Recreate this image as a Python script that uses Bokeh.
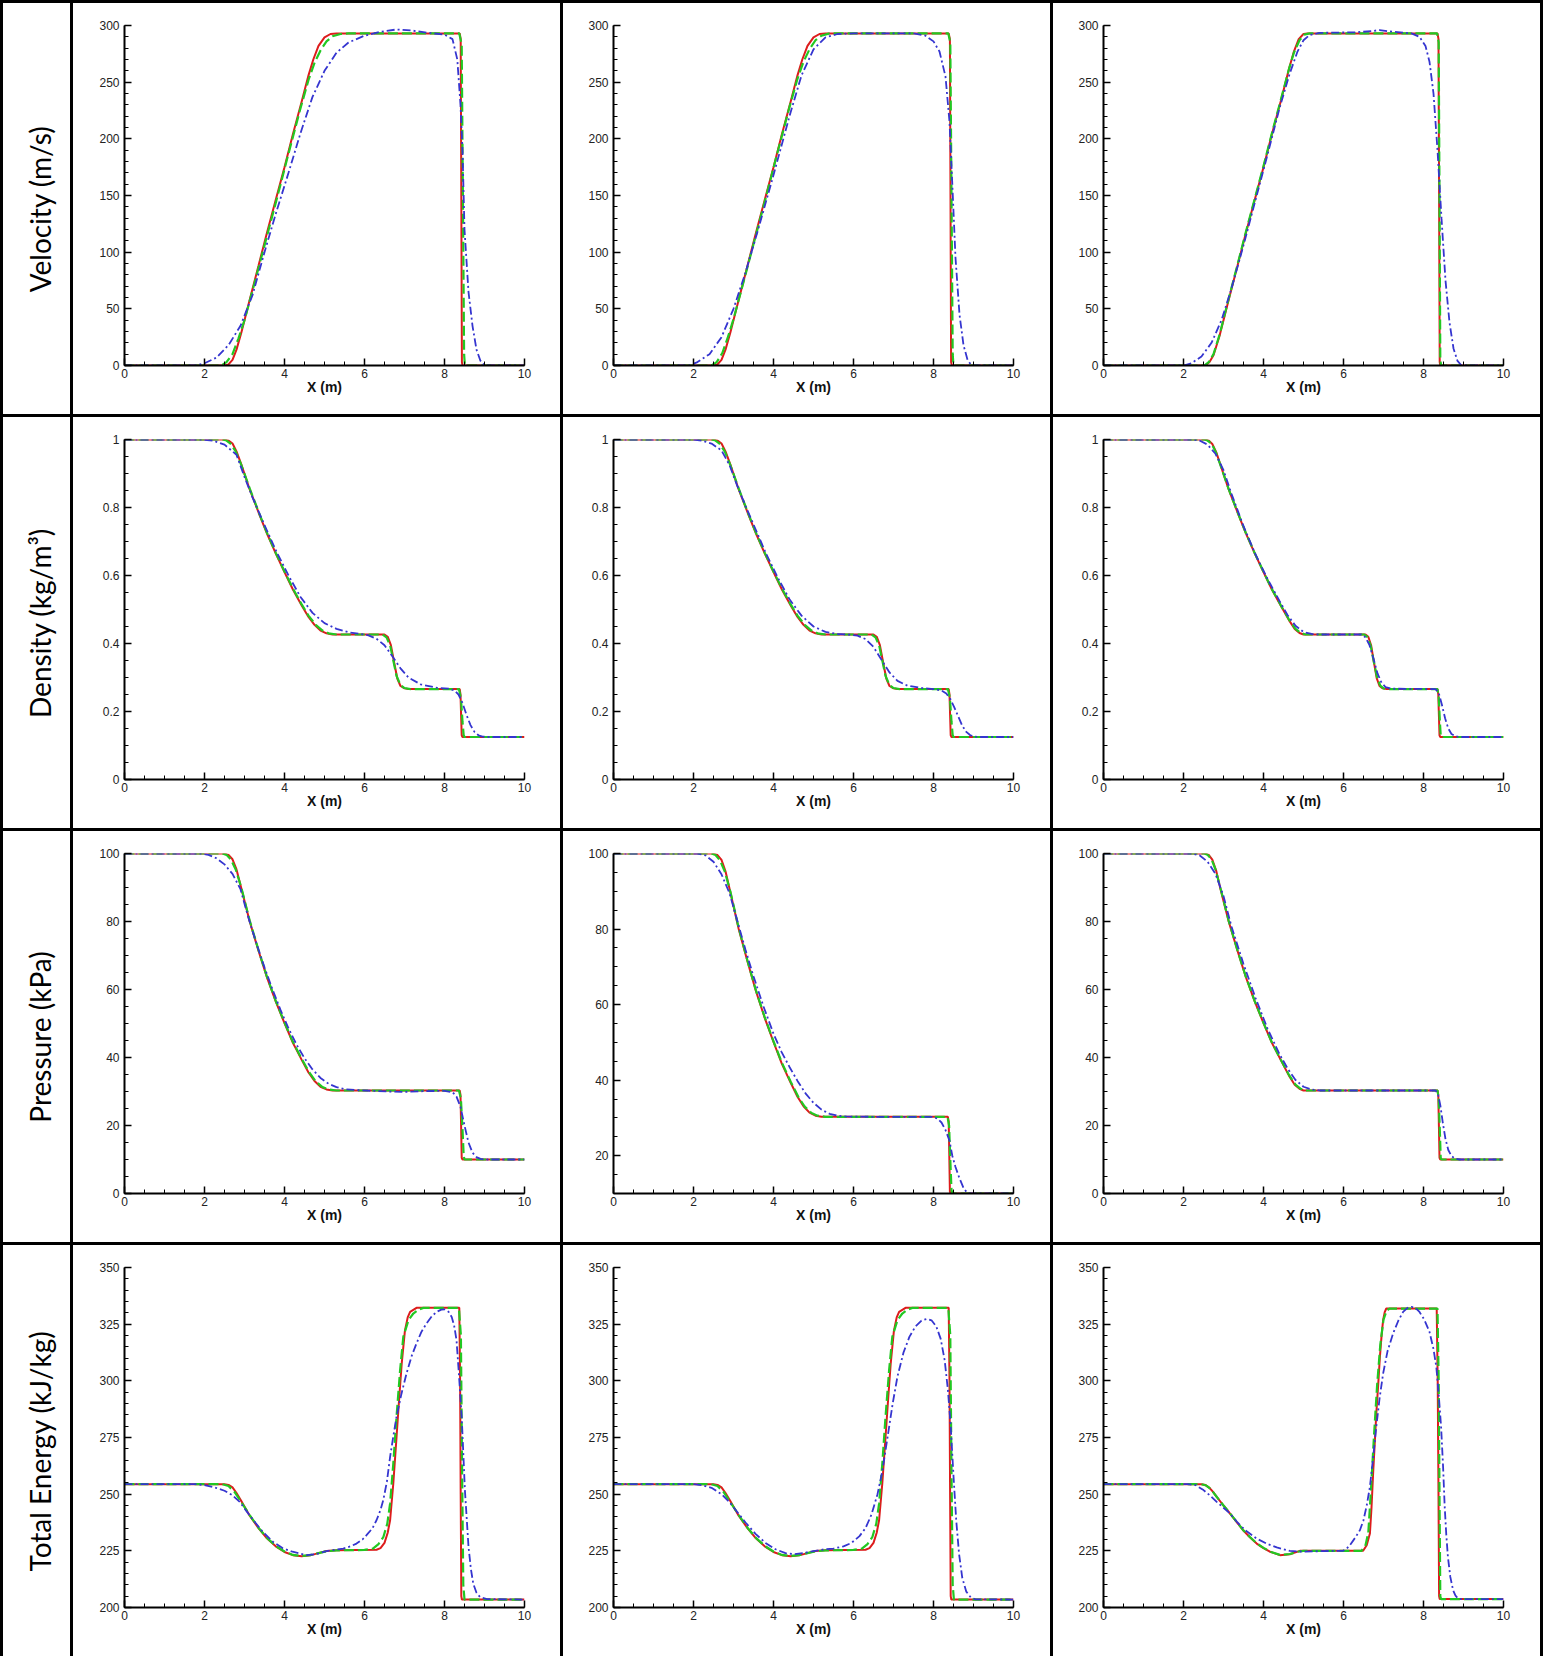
from math import pi
from bokeh.plotting import figure
from bokeh.models import (ColumnDataSource, Range1d, SingleIntervalTicker,
                          NumeralTickFormatter, GridBox)
from bokeh.embed import file_html
from bokeh.resources import INLINE
from bokeh.core.properties import value

# ---------------- text ----------------
ROW_LABELS = ["Velocity (m/s)", "Density (kg/m\u00b3)", "Pressure (kPa)", "Total Energy (kJ/kg)"]
X_LABEL = "X (m)"

# ---------------- data (x in m, value) ----------------
# Velocity (m/s)
VEL_C1_RED = [(0,0),(2.5,0),(2.6,1),(2.7,5),(2.8,14),(2.92,29),(3.13,58),(3.35,88),(3.56,117),(3.78,146),(4.0,175),(4.21,204),(4.43,233),(4.6,256),(4.72,270),(4.85,282),(5.0,289.5),(5.15,292.5),(5.3,293),(8.38,293),(8.405,288),(8.42,150),(8.435,3),(8.45,0),(10,0)]
VEL_C1_GRN = [(0,0),(2.42,0),(2.55,3),(2.7,10),(2.85,24),(3.0,40),(3.2,66),(3.5,106),(3.8,146),(4.1,187),(4.4,227),(4.6,252),(4.75,267),(4.9,278),(5.05,286),(5.2,290.5),(5.4,292.5),(5.6,293),(8.37,293),(8.43,283),(8.46,150),(8.49,10),(8.51,0),(10,0)]
VEL_C1_BLU = [(0,0),(1.8,0),(2.0,2),(2.3,7),(2.6,18),(2.9,35),(3.2,62),(3.5,100),(3.8,136),(4.1,170),(4.4,205),(4.7,237),(5.0,260),(5.3,276),(5.6,285),(6.0,291),(6.4,294.5),(6.8,296.5),(7.2,295.5),(7.6,293.5),(8.0,292),(8.2,288),(8.32,270),(8.4,230),(8.45,190),(8.5,120),(8.6,65),(8.7,35),(8.8,14),(8.9,4),(9.0,0),(10,0)]

VEL_C2_RED = [(0,0),(2.5,0),(2.6,1),(2.7,5),(2.8,14),(2.92,29),(3.13,58),(3.35,88),(3.56,117),(3.78,146),(4.0,175),(4.21,204),(4.43,233),(4.6,256),(4.72,270),(4.85,282),(5.0,289.5),(5.15,292.5),(5.3,293),(8.38,293),(8.41,288),(8.425,150),(8.44,3),(8.46,0),(10,0)]
VEL_C2_GRN = [(0,0),(2.45,0),(2.58,3),(2.72,11),(2.86,25),(3.0,41),(3.2,67),(3.5,107),(3.8,147),(4.1,188),(4.4,228),(4.6,253),(4.75,268),(4.9,279),(5.05,287),(5.2,291),(5.4,293),(8.37,293),(8.42,285),(8.45,150),(8.48,10),(8.5,0),(10,0)]
VEL_C2_BLU = [(0,0),(1.9,0),(2.1,3),(2.4,10),(2.7,25),(3.0,50),(3.3,82),(3.6,118),(4.0,168),(4.4,220),(4.7,256),(5.0,279),(5.3,289.5),(5.6,292.5),(6.0,293),(7.5,293),(7.8,291),(8.0,286),(8.15,277),(8.3,255),(8.4,215),(8.47,160),(8.55,95),(8.65,45),(8.75,18),(8.85,5),(8.95,0),(10,0)]

VEL_C3_RED = [(0,0),(2.55,0),(2.65,3),(2.75,9),(2.9,26),(3.13,58),(3.35,88),(3.56,117),(3.78,146),(4.0,175),(4.21,204),(4.43,233),(4.64,262),(4.76,277),(4.88,288),(5.0,292.5),(5.1,293),(8.35,293),(8.375,288),(8.39,150),(8.405,3),(8.42,0),(10,0)]
VEL_C3_GRN = [(0,0),(2.52,0),(2.63,3),(2.75,10),(2.9,27),(3.13,59),(3.35,89),(3.56,118),(3.78,147),(4.0,176),(4.21,205),(4.43,234),(4.64,262),(4.76,276),(4.9,287),(5.02,292),(5.15,293),(8.34,293),(8.38,285),(8.4,150),(8.42,5),(8.44,0),(10,0)]
VEL_C3_BLU = [(0,0),(2.0,0),(2.2,2),(2.45,8),(2.7,20),(2.95,40),(3.2,68),(3.5,106),(3.8,146),(4.1,186),(4.4,227),(4.65,257),(4.85,277),(5.0,287),(5.15,291.5),(5.4,293.5),(6.3,294),(6.7,295),(6.9,296),(7.1,295),(7.7,293),(7.9,290),(8.05,282),(8.15,268),(8.25,240),(8.35,190),(8.45,130),(8.55,75),(8.65,38),(8.75,15),(8.85,4),(8.95,0),(10,0)]

# Density (kg/m3)
DEN_C1_RED = [(0,1),(2.5,1),(2.6,0.997),(2.7,0.988),(2.8,0.965),(2.92,0.927),(3.13,0.853),(3.35,0.786),(3.56,0.724),(3.78,0.665),(4.0,0.61),(4.21,0.559),(4.43,0.512),(4.6,0.478),(4.75,0.455),(4.9,0.438),(5.05,0.43),(5.2,0.4265),(6.5,0.4265),(6.58,0.42),(6.66,0.395),(6.74,0.345),(6.82,0.297),(6.9,0.275),(7.0,0.268),(7.1,0.266),(8.38,0.266),(8.4,0.25),(8.415,0.19),(8.43,0.13),(8.45,0.125),(10,0.125)]
DEN_C1_GRN = [(0,1),(2.45,1),(2.55,0.997),(2.65,0.988),(2.78,0.965),(2.92,0.925),(3.13,0.856),(3.35,0.788),(3.56,0.726),(3.78,0.667),(4.0,0.612),(4.21,0.562),(4.43,0.515),(4.6,0.482),(4.78,0.455),(4.95,0.438),(5.1,0.43),(5.3,0.4265),(6.45,0.4265),(6.55,0.418),(6.64,0.395),(6.72,0.35),(6.8,0.305),(6.9,0.278),(7.0,0.269),(7.15,0.266),(8.36,0.266),(8.41,0.24),(8.45,0.17),(8.48,0.13),(8.5,0.125),(10,0.125)]
DEN_C1_BLU = [(0,1),(1.9,1),(2.2,0.997),(2.5,0.985),(2.8,0.955),(3.0,0.89),(3.2,0.83),(3.5,0.748),(3.8,0.67),(4.1,0.6),(4.4,0.537),(4.7,0.49),(5.0,0.46),(5.3,0.443),(5.6,0.433),(5.9,0.428),(6.1,0.424),(6.3,0.414),(6.5,0.395),(6.7,0.362),(6.9,0.327),(7.1,0.3),(7.4,0.28),(7.8,0.27),(8.1,0.267),(8.25,0.262),(8.35,0.25),(8.45,0.225),(8.55,0.19),(8.65,0.16),(8.75,0.14),(8.85,0.13),(8.95,0.126),(9.1,0.125),(10,0.125)]

DEN_C2_RED = [(0,1),(2.5,1),(2.6,0.997),(2.7,0.988),(2.8,0.965),(2.92,0.927),(3.13,0.853),(3.35,0.786),(3.56,0.724),(3.78,0.665),(4.0,0.61),(4.21,0.559),(4.43,0.512),(4.6,0.478),(4.75,0.455),(4.9,0.438),(5.05,0.43),(5.2,0.4265),(6.5,0.4265),(6.58,0.42),(6.66,0.395),(6.74,0.345),(6.82,0.297),(6.9,0.275),(7.0,0.268),(7.1,0.266),(8.38,0.266),(8.4,0.25),(8.415,0.19),(8.43,0.13),(8.45,0.125),(10,0.125)]
DEN_C2_GRN = [(0,1),(2.45,1),(2.55,0.997),(2.65,0.988),(2.78,0.965),(2.92,0.925),(3.13,0.856),(3.35,0.788),(3.56,0.726),(3.78,0.667),(4.0,0.612),(4.21,0.562),(4.43,0.515),(4.6,0.482),(4.78,0.455),(4.95,0.438),(5.1,0.43),(5.3,0.4265),(6.45,0.4265),(6.55,0.418),(6.64,0.395),(6.72,0.35),(6.8,0.305),(6.9,0.278),(7.0,0.269),(7.15,0.266),(8.36,0.266),(8.41,0.24),(8.45,0.17),(8.48,0.13),(8.5,0.125),(10,0.125)]
DEN_C2_BLU = [(0,1),(2.0,1),(2.2,0.997),(2.45,0.988),(2.7,0.968),(2.9,0.925),(3.1,0.862),(3.3,0.805),(3.5,0.75),(3.8,0.668),(4.1,0.595),(4.4,0.53),(4.7,0.482),(5.0,0.45),(5.3,0.434),(5.6,0.428),(5.9,0.426),(6.1,0.423),(6.3,0.413),(6.5,0.39),(6.7,0.352),(6.9,0.315),(7.1,0.29),(7.35,0.276),(7.7,0.269),(8.0,0.266),(8.2,0.262),(8.32,0.253),(8.42,0.237),(8.52,0.212),(8.62,0.185),(8.72,0.158),(8.82,0.14),(8.92,0.13),(9.02,0.126),(9.15,0.125),(10,0.125)]

DEN_C3_RED = [(0,1),(2.55,1),(2.63,0.997),(2.72,0.987),(2.82,0.962),(2.92,0.927),(3.13,0.853),(3.35,0.786),(3.56,0.724),(3.78,0.665),(4.0,0.61),(4.21,0.559),(4.43,0.512),(4.64,0.468),(4.78,0.443),(4.9,0.431),(5.0,0.4265),(6.55,0.4265),(6.62,0.42),(6.69,0.395),(6.76,0.345),(6.83,0.298),(6.9,0.275),(6.98,0.268),(7.08,0.266),(8.35,0.266),(8.37,0.25),(8.385,0.19),(8.4,0.13),(8.42,0.125),(10,0.125)]
DEN_C3_GRN = [(0,1),(2.52,1),(2.6,0.997),(2.7,0.988),(2.8,0.965),(2.92,0.926),(3.13,0.854),(3.35,0.787),(3.56,0.725),(3.78,0.666),(4.0,0.611),(4.21,0.56),(4.43,0.513),(4.64,0.47),(4.8,0.443),(4.93,0.431),(5.05,0.4265),(6.52,0.4265),(6.6,0.419),(6.68,0.393),(6.76,0.345),(6.84,0.3),(6.92,0.276),(7.0,0.268),(7.1,0.266),(8.35,0.266),(8.38,0.245),(8.41,0.17),(8.43,0.13),(8.45,0.125),(10,0.125)]
DEN_C3_BLU = [(0,1),(2.2,1),(2.4,0.997),(2.6,0.985),(2.8,0.958),(3.0,0.91),(3.2,0.84),(3.5,0.745),(3.8,0.662),(4.1,0.59),(4.4,0.525),(4.6,0.484),(4.8,0.452),(5.0,0.434),(5.2,0.428),(5.4,0.4265),(6.45,0.4265),(6.55,0.418),(6.65,0.395),(6.75,0.355),(6.85,0.312),(6.95,0.285),(7.05,0.272),(7.2,0.267),(8.3,0.266),(8.38,0.255),(8.46,0.22),(8.54,0.18),(8.62,0.15),(8.7,0.134),(8.8,0.127),(8.9,0.125),(10,0.125)]

# Pressure (kPa)
PRE_C1_RED = [(0,100),(2.5,100),(2.6,99.6),(2.7,98.3),(2.8,95.3),(2.92,89.8),(3.13,80),(3.35,71.4),(3.56,63.6),(3.78,56.5),(4.0,50.1),(4.21,44.3),(4.43,39.3),(4.6,35.6),(4.75,33.1),(4.9,31.4),(5.05,30.6),(5.2,30.3),(8.38,30.3),(8.4,29),(8.415,20),(8.43,10.5),(8.45,10),(10,10)]
PRE_C1_GRN = [(0,100),(2.45,100),(2.55,99.6),(2.66,98.2),(2.78,95.3),(2.92,90),(3.13,80.3),(3.35,71.6),(3.56,63.8),(3.78,56.7),(4.0,50.3),(4.21,44.6),(4.43,39.6),(4.62,35.6),(4.78,33),(4.95,31.3),(5.1,30.6),(5.3,30.3),(8.36,30.3),(8.41,28),(8.45,19),(8.48,11),(8.5,10),(10,10)]
PRE_C1_BLU = [(0,100),(1.9,100),(2.1,99.6),(2.3,98.6),(2.5,96.8),(2.7,94),(2.9,89.5),(3.1,81),(3.3,73.5),(3.5,66.5),(3.7,60),(3.9,54),(4.1,48.6),(4.3,43.8),(4.5,39.8),(4.7,36.5),(4.9,34),(5.1,32.3),(5.3,31.3),(5.5,30.7),(5.8,30.4),(6.2,30.2),(6.6,30.0),(7.0,29.9),(7.5,30.1),(8.0,30.2),(8.2,29.8),(8.3,28.5),(8.4,25.5),(8.5,20),(8.6,15),(8.7,12),(8.8,10.7),(8.9,10.2),(9.0,10),(10,10)]

PRE_C2_RED = [(0,100),(2.5,100),(2.6,99.6),(2.7,98.3),(2.8,95.3),(2.92,89.8),(3.13,80),(3.35,71.4),(3.56,63.6),(3.78,56.5),(4.0,50.1),(4.21,44.3),(4.43,39.3),(4.6,35.6),(4.75,33.1),(4.9,31.4),(5.05,30.6),(5.2,30.3),(8.36,30.3),(8.38,29),(8.395,20),(8.41,10.5),(8.43,10),(10,10)]
PRE_C2_GRN = [(0,100),(2.45,100),(2.55,99.6),(2.66,98.2),(2.78,95.3),(2.92,90),(3.13,80.3),(3.35,71.6),(3.56,63.8),(3.78,56.7),(4.0,50.3),(4.21,44.6),(4.43,39.6),(4.62,35.6),(4.78,33),(4.95,31.3),(5.1,30.6),(5.3,30.3),(8.35,30.3),(8.39,28),(8.42,19),(8.45,11),(8.47,10),(10,10)]
PRE_C2_BLU = [(0,100),(2.1,100),(2.3,99.5),(2.5,97.8),(2.7,94.5),(2.9,89.5),(3.1,82),(3.3,74.5),(3.5,67.5),(3.75,59.5),(4.0,52.3),(4.2,47.5),(4.4,43.5),(4.6,39.8),(4.8,36.5),(5.0,34),(5.2,32.2),(5.4,31.1),(5.6,30.6),(5.8,30.4),(6.5,30.3),(8.0,30.3),(8.1,29.8),(8.2,28.8),(8.3,26.8),(8.4,24),(8.47,20),(8.55,17),(8.65,14),(8.75,11.5),(8.84,10.2),(8.9,10),(10,10)]

PRE_C3_RED = [(0,100),(2.55,100),(2.63,99.6),(2.72,98.2),(2.82,94.8),(2.92,89.8),(3.13,80),(3.35,71.4),(3.56,63.6),(3.78,56.5),(4.0,50.1),(4.21,44.3),(4.43,39.3),(4.64,34.6),(4.78,32),(4.9,30.8),(5.0,30.3),(8.35,30.3),(8.37,29),(8.385,20),(8.4,10.5),(8.42,10),(10,10)]
PRE_C3_GRN = [(0,100),(2.52,100),(2.6,99.6),(2.7,98.3),(2.8,95.3),(2.92,90),(3.13,80.2),(3.35,71.5),(3.56,63.7),(3.78,56.6),(4.0,50.2),(4.21,44.4),(4.43,39.4),(4.64,34.8),(4.8,32),(4.93,30.8),(5.05,30.3),(8.35,30.3),(8.38,28),(8.41,18),(8.43,10.5),(8.45,10),(10,10)]
PRE_C3_BLU = [(0,100),(2.2,100),(2.4,99.5),(2.6,97.6),(2.8,94),(3.0,87.5),(3.2,78.5),(3.5,67.5),(3.8,57.5),(4.1,48.5),(4.4,41),(4.6,36.8),(4.8,33.4),(5.0,31.4),(5.2,30.6),(5.4,30.3),(8.3,30.3),(8.36,29.3),(8.42,26),(8.48,21),(8.55,16),(8.62,12.8),(8.7,11),(8.8,10.2),(8.9,10),(10,10)]

# Total energy (kJ/kg)
EN_C1_RED = [(0,254.4),(2.5,254.4),(2.6,254.1),(2.7,253),(2.8,250.5),(2.92,247),(3.13,240.5),(3.35,235),(3.56,230.5),(3.78,227),(4.0,224.5),(4.21,223.1),(4.43,222.6),(4.64,223),(4.85,224),(5.05,224.9),(5.3,225.3),(6.3,225.5),(6.4,226.2),(6.5,228.5),(6.58,233),(6.64,238.5),(6.72,254.7),(6.8,275),(6.87,293),(6.93,307.6),(7.01,322),(7.08,328),(7.14,330.4),(7.3,332.2),(8.37,332.2),(8.39,300),(8.405,250),(8.42,205),(8.435,203.5),(10,203.5)]
EN_C1_GRN = [(0,254.4),(2.45,254.4),(2.6,253.6),(2.75,251),(2.9,247),(3.13,240.8),(3.35,235.2),(3.56,230.7),(3.78,227.2),(4.0,224.7),(4.21,223.2),(4.43,222.7),(4.64,223.1),(4.85,224),(5.05,224.8),(5.3,225.2),(6.0,225.4),(6.21,226),(6.35,228),(6.47,231),(6.57,237),(6.64,245.9),(6.72,263.5),(6.8,284),(6.89,304.7),(6.97,319.4),(7.1,326.8),(7.22,329.7),(7.35,331.4),(7.47,332.2),(8.36,332.2),(8.41,320),(8.44,260),(8.47,210),(8.5,203.5),(10,203.5)]
EN_C1_BLU = [(0,254.4),(1.8,254.4),(2.0,254),(2.25,253),(2.5,251.5),(2.7,249.5),(2.88,246.6),(3.05,242.5),(3.21,238.8),(3.45,233.5),(3.71,229),(3.95,226.2),(4.2,224.6),(4.55,223.1),(4.8,223.6),(5.05,224.9),(5.3,225.6),(5.47,226),(5.65,227),(5.8,228.2),(5.95,230),(6.05,231.9),(6.2,235),(6.3,238.5),(6.4,243),(6.47,247.4),(6.56,255.5),(6.64,266.5),(6.72,275.5),(6.8,284.1),(6.92,294),(7.05,303.2),(7.18,311),(7.3,316.5),(7.42,321.5),(7.55,325.3),(7.68,328.4),(7.8,330.4),(7.92,331.4),(8.01,331.5),(8.1,330.5),(8.18,328.2),(8.24,324.5),(8.3,318),(8.36,303),(8.43,284.1),(8.47,268),(8.51,251.8),(8.56,238),(8.6,226.8),(8.66,217),(8.72,210.4),(8.8,206.5),(8.89,204.6),(9.06,203.7),(10,203.5)]

EN_C2_RED = [(0,254.4),(2.5,254.4),(2.6,254.1),(2.7,253),(2.8,250.5),(2.92,247),(3.13,240.5),(3.35,235),(3.56,230.5),(3.78,227),(4.0,224.5),(4.21,223.1),(4.43,222.6),(4.64,223),(4.85,224),(5.05,224.9),(5.3,225.3),(6.3,225.5),(6.4,226.2),(6.5,228.5),(6.58,233),(6.64,238.5),(6.72,254.7),(6.8,275),(6.87,293),(6.93,307.6),(7.01,322),(7.08,328),(7.14,330.4),(7.3,332.2),(8.38,332.2),(8.4,300),(8.415,250),(8.43,205),(8.445,203.5),(10,203.5)]
EN_C2_GRN = [(0,254.4),(2.45,254.4),(2.6,253.6),(2.75,251),(2.9,247),(3.13,240.8),(3.35,235.2),(3.56,230.7),(3.78,227.2),(4.0,224.7),(4.21,223.2),(4.43,222.7),(4.64,223.1),(4.85,224),(5.05,224.8),(5.3,225.2),(6.0,225.4),(6.21,226),(6.35,228),(6.47,231),(6.57,237),(6.64,245.9),(6.72,263.5),(6.8,284),(6.89,304.7),(6.97,319.4),(7.1,326.8),(7.22,329.7),(7.35,331.4),(7.47,332.2),(8.37,332.2),(8.42,320),(8.45,260),(8.48,210),(8.51,203.5),(10,203.5)]
EN_C2_BLU = [(0,254.4),(2.0,254.4),(2.2,254),(2.45,252.8),(2.7,250),(2.9,246.5),(3.1,242),(3.3,237.5),(3.55,232.5),(3.8,228.5),(4.05,225.7),(4.3,224),(4.5,223.5),(4.75,224),(5.0,224.9),(5.25,225.6),(5.5,226),(5.75,227),(5.95,228.5),(6.15,231.5),(6.3,235),(6.45,241),(6.6,250),(6.72,260),(6.85,275),(6.98,290),(7.1,302),(7.25,312.5),(7.4,319.5),(7.55,324),(7.7,326.6),(7.83,327.3),(7.95,326.7),(8.07,324),(8.18,318.5),(8.28,309),(8.36,296),(8.43,280),(8.5,258),(8.57,238),(8.64,223.5),(8.72,213),(8.82,207),(8.93,204.5),(9.05,203.6),(10,203.5)]

EN_C3_RED = [(0,254.4),(2.45,254.4),(2.55,254),(2.65,252.8),(2.75,250.8),(2.83,248.8),(3.0,245),(3.16,241.5),(3.33,237.7),(3.49,234.1),(3.66,231),(3.83,228.2),(4.0,226.2),(4.16,224.6),(4.41,223.1),(4.66,223.5),(4.8,224.3),(4.91,225),(6.49,225),(6.58,227.5),(6.66,232.6),(6.7,244),(6.74,259),(6.78,272),(6.82,285.6),(6.87,299),(6.91,310.6),(6.95,319.5),(6.99,326.8),(7.03,330.3),(7.07,331.9),(8.33,331.9),(8.355,300),(8.375,250),(8.39,205),(8.405,203.7),(10,203.7)]
EN_C3_GRN = [(0,254.4),(2.45,254.4),(2.57,253.8),(2.68,252.3),(2.8,249.5),(3.0,245),(3.16,241.6),(3.33,237.8),(3.49,234.2),(3.66,231.1),(3.83,228.3),(4.0,226.3),(4.16,224.7),(4.41,223.2),(4.66,223.6),(4.85,224.6),(5.0,225),(6.45,225),(6.55,227.5),(6.62,233),(6.68,250),(6.76,275),(6.84,298),(6.92,316),(7.0,327),(7.08,331),(7.15,331.9),(8.35,331.9),(8.38,300),(8.4,250),(8.42,205),(8.44,203.7),(10,203.7)]
EN_C3_BLU = [(0,254.4),(2.1,254.4),(2.3,254),(2.5,251.8),(2.67,249.3),(2.83,246.6),(3.0,244),(3.16,241.5),(3.35,237.5),(3.55,234),(3.83,230.4),(4.1,228),(4.33,226.5),(4.66,225),(4.99,224.6),(5.5,224.9),(5.99,225),(6.08,226),(6.16,227.5),(6.3,231),(6.41,234.1),(6.5,238.5),(6.58,245),(6.66,253.2),(6.74,266),(6.82,279.7),(6.9,292),(6.99,303.2),(7.1,313),(7.24,320.9),(7.37,326.5),(7.49,330.4),(7.6,332.2),(7.7,332.6),(7.8,332.2),(7.9,330.4),(8.02,327),(8.15,321.6),(8.25,314),(8.32,306.2),(8.38,294),(8.44,279.7),(8.49,262),(8.53,244.4),(8.57,232),(8.61,222.4),(8.67,213.5),(8.74,207.6),(8.8,205.2),(8.86,204),(8.95,203.7),(10,203.7)]

SERIES = [
    [(VEL_C1_RED, VEL_C1_GRN, VEL_C1_BLU), (VEL_C2_RED, VEL_C2_GRN, VEL_C2_BLU), (VEL_C3_RED, VEL_C3_GRN, VEL_C3_BLU)],
    [(DEN_C1_RED, DEN_C1_GRN, DEN_C1_BLU), (DEN_C2_RED, DEN_C2_GRN, DEN_C2_BLU), (DEN_C3_RED, DEN_C3_GRN, DEN_C3_BLU)],
    [(PRE_C1_RED, PRE_C1_GRN, PRE_C1_BLU), (PRE_C2_RED, PRE_C2_GRN, PRE_C2_BLU), (PRE_C3_RED, PRE_C3_GRN, PRE_C3_BLU)],
    [(EN_C1_RED, EN_C1_GRN, EN_C1_BLU), (EN_C2_RED, EN_C2_GRN, EN_C2_BLU), (EN_C3_RED, EN_C3_GRN, EN_C3_BLU)],
]

# axis settings per row: y ranges per column, tick interval, minor intervals, format
Y_RANGES = [
    [(0, 300), (0, 300), (0, 300)],
    [(0, 1), (0, 1), (0, 1)],
    [(0, 100), (10, 100), (0, 100)],
    [(200, 350), (200, 350), (200, 350)],
]
Y_INTERVAL = [50, 0.2, 20, 25]
Y_MINOR = [5, 4, 4, 5]
Y_FORMAT = ["0", "0.[0]", "0", "0"]

# ---------------- layout / style ----------------
CELL_W, CELL_H, LABEL_W = 487, 411, 67
FRAME_W, FRAME_H = 400, 340
LEFT_PAD = [51, 50, 50]
TOP_PAD = 22
BOT_PAD = CELL_H - TOP_PAD - FRAME_H
STYLES = [
    dict(color="#dd1c1c", line_width=2.0, line_dash="solid"),
    dict(color="#22c822", line_width=2.2, line_dash="10 4"),
    dict(color="#3535d0", line_width=1.8, line_dash="8 3 2 3"),
]
TICK_FONT = "Liberation Sans"
WHITE_BG = {"background-color": "white"}


def make_label(text):
    # frame gets aligned with the neighbouring plots; range chosen so 0.5 is the cell centre
    p = figure(width=LABEL_W, height=CELL_H, x_range=Range1d(0, 1),
               y_range=Range1d(BOT_PAD / CELL_H, 1 - TOP_PAD / CELL_H),
               output_backend="svg", toolbar_location=None,
               min_border_left=0, min_border_right=0,
               min_border_top=TOP_PAD, min_border_bottom=BOT_PAD,
               x_axis_location=None, y_axis_location=None,
               outline_line_color=None, styles=WHITE_BG)
    p.grid.visible = False
    p.border_fill_color = "white"
    src = ColumnDataSource(dict(x=[0.55], y=[0.5], t=[text]))
    p.text(x="x", y="y", text="t", source=src, angle=pi / 2, text_align="center",
           text_baseline="middle", text_font=value("Lato"), text_font_size="28px",
           text_color="black")
    return p


def make_panel(r, c):
    y0, y1 = Y_RANGES[r][c]
    p = figure(width=CELL_W, height=CELL_H, x_range=Range1d(0, 10), y_range=Range1d(y0, y1),
               output_backend="svg", toolbar_location=None,
               min_border_left=LEFT_PAD[c], min_border_right=CELL_W - LEFT_PAD[c] - FRAME_W,
               min_border_top=TOP_PAD, min_border_bottom=BOT_PAD,
               outline_line_color=None, styles=WHITE_BG)
    p.grid.visible = False
    p.background_fill_color = "white"
    p.border_fill_color = "white"

    p.xaxis.ticker = SingleIntervalTicker(interval=2, num_minor_ticks=4)
    p.yaxis.ticker = SingleIntervalTicker(interval=Y_INTERVAL[r], num_minor_ticks=Y_MINOR[r])
    p.yaxis.formatter = NumeralTickFormatter(format=Y_FORMAT[r])
    p.xaxis.formatter = NumeralTickFormatter(format="0")
    for ax in (p.xaxis[0], p.yaxis[0]):
        ax.axis_line_width = 2
        ax.axis_line_color = "black"
        ax.major_tick_in = 7
        ax.major_tick_out = 0
        ax.minor_tick_in = 4
        ax.minor_tick_out = 0
        ax.major_tick_line_width = 1.5
        ax.minor_tick_line_width = 1
        ax.major_label_text_font = TICK_FONT
        ax.major_label_text_font_size = "12px"
        ax.major_label_text_color = "#222222"
    p.yaxis.major_label_standoff = 5
    p.xaxis.major_label_standoff = 3
    p.xaxis.axis_label = X_LABEL
    p.xaxis.axis_label_text_font = TICK_FONT
    p.xaxis.axis_label_text_font_style = "bold"
    p.xaxis.axis_label_text_font_size = "14px"
    p.xaxis.axis_label_text_color = "#111111"
    p.xaxis.axis_label_standoff = -2

    for series, st in zip(SERIES[r][c], STYLES):
        xs = [pt[0] for pt in series]
        ys = [pt[1] for pt in series]
        src = ColumnDataSource(dict(x=xs, y=ys))
        p.line("x", "y", source=src, line_color=st["color"], line_width=st["line_width"],
               line_dash=st["line_dash"])
    return p


children = []
for r in range(4):
    children.append((make_label(ROW_LABELS[r]), r, 0))
    for c in range(3):
        children.append((make_panel(r, c), r, c + 1))

grid = GridBox(children=children, spacing=3,
               styles={"background-color": "black", "padding": "3px 3px 0px 3px"})

open("out.html", "w").write(file_html(grid, INLINE))
